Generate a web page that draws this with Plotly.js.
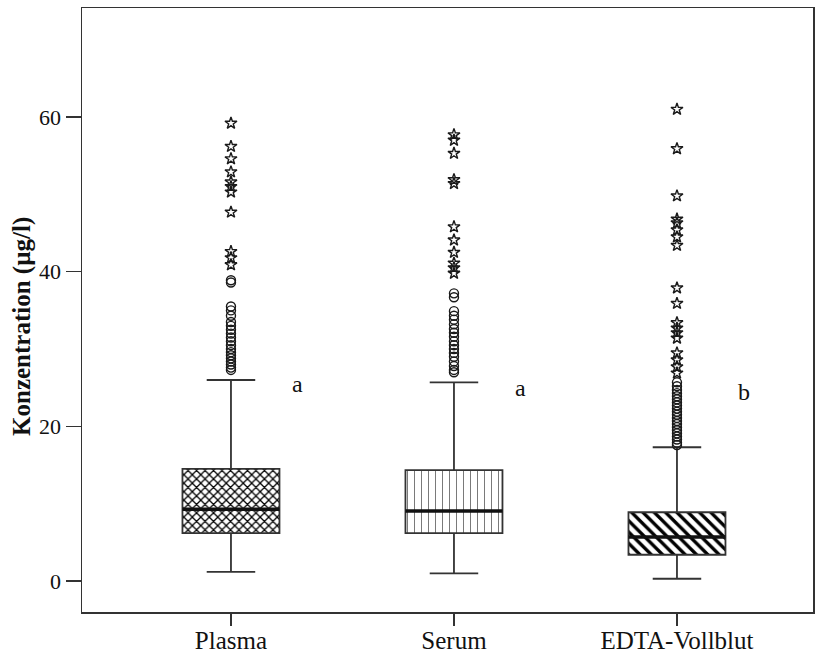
<!DOCTYPE html>
<html>
<head>
<meta charset="utf-8">
<script src="https://cdn.plot.ly/plotly-3.0.1.min.js"></script>
<style>html,body{margin:0;padding:0;background:#fff;}#chart{width:815px;height:659px;}</style>
</head>
<body>
<div id="chart"></div>
<script>
// ---- data ----
const categories = ["Plasma", "Serum", "EDTA-Vollblut"];
const q1 = [6.2, 6.2, 3.4];
const medians = [9.3, 9.05, 5.7];
const q3 = [14.5, 14.35, 8.9];
const lowerWhisker = [1.2, 1.0, 0.3];
const upperWhisker = [26.0, 25.7, 17.3];
const groupLetters = ["a", "a", "b"];
const letterHeights = [25.5, 25.0, 24.4];
const yTitle = "Konzentration (µg/l)";

// outliers (circles) and extreme values (stars)
const plasmaCircles = [38.9, 38.6, 35.5, 35.0, 34.3, 33.5, 33.0, 32.5, 32.0, 31.5, 31.0, 30.5, 30.0, 29.6, 29.2, 28.8, 28.4, 28.0, 27.6, 27.3];
const plasmaStars = [59.2, 56.2, 54.6, 52.9, 51.6, 51.0, 50.3, 47.7, 42.6, 41.8, 40.9];
const serumCircles = [37.2, 36.7, 34.9, 34.3, 33.8, 33.2, 32.6, 32.1, 31.6, 31.0, 30.5, 30.0, 29.5, 29.0, 28.4, 27.8, 27.3, 27.0];
const serumStars = [57.7, 57.0, 55.3, 51.9, 51.4, 45.8, 44.1, 42.5, 41.1, 40.5, 39.8];
const edtaCircles = [25.7, 25.2, 24.7, 24.3, 23.9, 23.5, 23.1, 22.7, 22.3, 21.9, 21.5, 21.1, 20.7, 20.3, 19.9, 19.5, 19.1, 18.7, 18.3, 17.9, 17.6];
const edtaStars = [61.0, 55.9, 49.8, 46.8, 46.3, 45.4, 44.5, 43.4, 37.9, 35.9, 33.4, 32.7, 32.1, 31.4, 29.5, 28.6, 27.7, 26.9];

// ---- drawing ----
const pos = categories.map((c, i) => i);
const boxW = 0.435;
const ink = '#1a1a1a';
const serif = 'Liberation Serif, Times New Roman, serif';

const bars = {
  type: 'bar', x: pos, base: q1, y: q3.map((v, i) => v - q1[i]), width: boxW,
  marker: {
    color: '#ffffff',
    line: {width: 0},
    pattern: {shape: ['x', '|', '\\'], fgcolor: ['#000', '#777', '#000'], fgopacity: 1, bgcolor: '#ffffff',
              size: [6, 7, 8], solidity: [0.38, 0.14, 0.42], fillmode: 'overlay'}
  },
  hoverinfo: 'skip', showlegend: false
};

const boxes = {
  type: 'box', x: pos, q1: q1, median: medians, q3: q3,
  lowerfence: lowerWhisker, upperfence: upperWhisker,
  width: boxW, whiskerwidth: 0.5, boxpoints: false,
  fillcolor: 'rgba(0,0,0,0)', line: {color: '#333', width: 1.8},
  showlegend: false
};

const mx = [], my = [];
medians.forEach((m, i) => { mx.push(i - boxW / 2, i + boxW / 2, null); my.push(m, m, null); });
const medianLines = {type: 'scatter', mode: 'lines', x: mx, y: my, line: {color: '#111', width: 3.5}, showlegend: false, hoverinfo: 'skip'};

function pts(vals, i, symbol, size) {
  return {type: 'scatter', mode: 'markers', x: vals.map(() => i), y: vals,
    marker: {symbol: symbol, size: size, color: ink, line: {color: ink, width: 1.4}}, showlegend: false};
}

const traces = [bars, boxes, medianLines,
  pts(plasmaCircles, 0, 'circle-open', 9), pts(plasmaStars, 0, 'star-open', 9),
  pts(serumCircles, 1, 'circle-open', 9), pts(serumStars, 1, 'star-open', 9),
  pts(edtaCircles, 2, 'circle-open', 9), pts(edtaStars, 2, 'star-open', 9)];

const annotations = groupLetters.map((t, i) => ({
  x: i + 0.30, y: letterHeights[i], xref: 'x', yref: 'y', text: t, showarrow: false,
  font: {family: serif, size: 24, color: '#111'}
}));
annotations.push({
  xref: 'paper', yref: 'paper', x: -0.082, y: 0.472, xanchor: 'center', yanchor: 'middle',
  text: '<b>' + yTitle + '</b>',
  textangle: -90, showarrow: false, font: {family: serif, size: 25, color: '#111'}
});

const layout = {
  width: 815, height: 659,
  margin: {l: 82, r: 2, t: 8, b: 47},
  paper_bgcolor: '#fff', plot_bgcolor: '#fff',
  font: {family: serif, color: '#111'},
  xaxis: {range: [-0.668, 2.61], tickvals: pos, ticktext: categories,
    showline: true, mirror: true, linecolor: '#333', linewidth: 1.5,
    ticks: 'outside', ticklen: 12, tickcolor: '#333', tickwidth: 1.5,
    ticklabelstandoff: -7,
    showgrid: false, zeroline: false, tickfont: {size: 25}},
  yaxis: {range: [-4.0, 74.1], tickvals: [0, 20, 40, 60],
    showline: true, mirror: true, linecolor: '#333', linewidth: 1.5,
    ticks: 'outside', ticklen: 15, tickcolor: '#333', tickwidth: 1.5,
    showgrid: false, zeroline: false, tickfont: {size: 22}},
  annotations: annotations,
  bargap: 0
};

Plotly.newPlot('chart', traces, layout, {displayModeBar: false, staticPlot: true});
</script>
</body>
</html>
